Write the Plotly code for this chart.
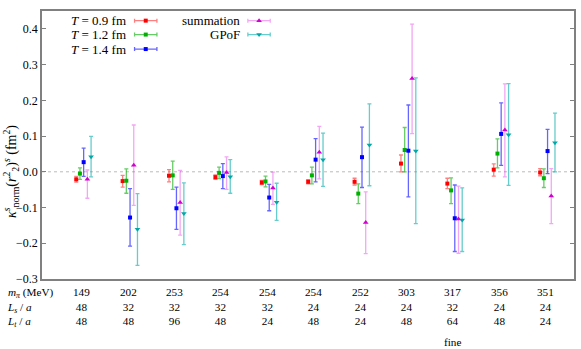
import plotly.graph_objects as go

# ensembles (x categories, table under the axis)
mpi = [149, 202, 253, 254, 254, 254, 252, 303, 317, 356, 351]
Ls = [48, 32, 32, 32, 32, 24, 24, 24, 32, 24, 24]
Lt = [48, 48, 96, 48, 24, 48, 24, 48, 64, 48, 24]
note = ["", "", "", "", "", "", "", "", "fine", "", ""]

# central values and upper / lower ends of error bars
t09_val = [-0.021, -0.026, -0.011, -0.015, -0.030, -0.028, -0.028, 0.023, -0.033, 0.006, -0.002]
t09_hi = [-0.013, -0.010, 0.006, -0.009, -0.024, -0.022, -0.018, 0.047, -0.018, 0.022, 0.009]
t09_lo = [-0.029, -0.043, -0.028, -0.021, -0.036, -0.034, -0.037, 0.000, -0.047, -0.012, -0.011]

t12_val = [-0.005, -0.025, -0.010, -0.003, -0.027, -0.010, -0.061, 0.061, -0.052, 0.051, -0.018]
t12_hi = [0.011, 0.008, 0.030, 0.013, -0.012, 0.013, -0.034, 0.124, -0.017, 0.092, 0.008]
t12_lo = [-0.021, -0.060, -0.049, -0.019, -0.042, -0.034, -0.089, 0.000, -0.089, 0.011, -0.044]

t14_val = [0.027, -0.128, -0.102, -0.012, -0.072, 0.034, 0.041, 0.059, -0.130, 0.106, 0.058]
t14_hi = [0.066, -0.047, -0.043, 0.023, -0.035, 0.093, 0.125, 0.187, -0.037, 0.193, 0.119]
t14_lo = [-0.013, -0.208, -0.161, -0.047, -0.109, -0.028, -0.044, -0.070, -0.223, 0.018, -0.005]

sum_val = [-0.021, 0.018, -0.086, -0.002, -0.045, 0.055, -0.142, 0.261, -0.132, 0.117, -0.068]
sum_hi = [0.005, 0.131, 0.004, 0.042, -0.001, 0.127, -0.056, 0.413, -0.040, 0.246, 0.009]
sum_lo = [-0.074, -0.094, -0.177, -0.049, -0.091, -0.020, -0.229, 0.107, -0.228, -0.014, -0.145]

gpof_val = [0.042, -0.161, -0.117, -0.014, -0.085, 0.034, 0.075, 0.058, -0.135, 0.104, 0.081]
gpof_hi = [0.099, -0.061, -0.031, 0.034, -0.032, 0.108, 0.190, 0.263, -0.045, 0.247, 0.164]
gpof_lo = [-0.014, -0.262, -0.204, -0.060, -0.136, -0.041, -0.039, -0.145, -0.223, -0.038, 0.000]

FONT = "Liberation Serif, Times New Roman, DejaVu Serif, serif"

series = [
    # name, val, hi, lo, marker colour, bar colour, symbol, size, legend col, legend row
    ("<i>T</i> = 0.9 fm", t09_val, t09_hi, t09_lo, "#ff0000", "rgba(255,0,0,0.5)", "square", 4, 0, 0),
    ("<i>T</i> = 1.2 fm", t12_val, t12_hi, t12_lo, "#00b000", "rgba(0,170,0,0.6)", "square", 4, 0, 1),
    ("<i>T</i> = 1.4 fm", t14_val, t14_hi, t14_lo, "#0000ff", "rgba(0,0,255,0.6)", "square", 4, 0, 2),
    ("summation", sum_val, sum_hi, sum_lo, "#d000d0", "rgba(220,0,220,0.35)", "triangle-up", 5, 1, 0),
    ("GPoF", gpof_val, gpof_hi, gpof_lo, "#00a8a8", "rgba(0,170,170,0.6)", "triangle-down", 5, 1, 1),
]

fig = go.Figure()

n = len(mpi)
for k, (name, val, hi, lo, mc, bc, sym, sz, lc, lr) in enumerate(series):
    off = (k - 1.5) * 0.08
    fig.add_trace(go.Scatter(
        x=[i + off for i in range(n)],
        y=val,
        mode="markers",
        marker=dict(color=mc, size=sz, symbol=sym),
        error_y=dict(type="data", symmetric=False,
                     array=[h - v for h, v in zip(hi, val)],
                     arrayminus=[v - l for v, l in zip(val, lo)],
                     color=bc, thickness=1.3, width=2),
        showlegend=False,
    ))

# gnuplot-style key drawn on an overlay axis (0..1 both ways)
key_x = [0.195, 0.408]
key_text_x = [0.161, 0.376]
key_y = [0.964, 0.912, 0.858]
for name, val, hi, lo, mc, bc, sym, sz, lc, lr in series:
    fig.add_trace(go.Scatter(
        x=[key_x[lc]], y=[key_y[lr]], xaxis="x2", yaxis="y2",
        mode="markers",
        marker=dict(color=mc, size=sz, symbol=sym),
        error_x=dict(type="data", array=[0.021], color=bc, thickness=1.3, width=2),
        showlegend=False, hoverinfo="skip",
    ))
    fig.add_annotation(x=key_text_x[lc], y=key_y[lr], xref="paper", yref="paper",
                       text=name, showarrow=False, xanchor="right", yanchor="middle",
                       font=dict(family=FONT, size=13, color="black"))

# table under the x axis: one multi-line text per column
TFONT = dict(family=FONT, size=11.2, color="black")
for i in range(n):
    fig.add_annotation(x=i, y=0, xref="x", yref="paper", yshift=-5,
                       text="%d<br>%d<br>%d" % (mpi[i], Ls[i], Lt[i]),
                       showarrow=False, xanchor="center", yanchor="top", align="center",
                       font=TFONT)
    if note[i]:
        fig.add_annotation(x=i, y=0, xref="x", yref="paper", yshift=-63,
                           text=note[i], showarrow=False, xanchor="center", yanchor="middle",
                           font=TFONT)
row_labels = ["<i>m</i><sub><i>π</i></sub> (MeV)", "<i>L</i><sub><i>s</i></sub> / <i>a</i>",
              "<i>L</i><sub><i>t</i></sub> / <i>a</i>"]
fig.add_annotation(x=-0.069, y=0, xref="paper", yref="paper", yshift=-5,
                   text="<br>".join(row_labels), showarrow=False,
                   xanchor="left", yanchor="top", align="left", font=TFONT)

# y axis title
fig.add_annotation(x=-0.058, y=0.40, xref="paper", yref="paper", textangle=-90,
                   text="<i>κ</i><sup><i>s</i></sup><sub>norm</sub>(<i>r</i><sup>2</sup><sub>2</sub>)<sup><i>s</i></sup> (fm<sup>2</sup>)",
                   showarrow=False, xanchor="center", yanchor="middle",
                   font=dict(family=FONT, size=14, color="black"))

# dotted zero line
fig.add_shape(type="line", xref="paper", yref="y", x0=0, x1=1, y0=0, y1=0,
              line=dict(color="#bbbbbb", width=1, dash="dot"), layer="below")

fig.update_layout(
    width=581, height=349,
    margin=dict(l=42, r=5, t=11, b=70),
    paper_bgcolor="white", plot_bgcolor="white",
    font=dict(family=FONT, size=13, color="black"),
    showlegend=False,
    xaxis=dict(range=[-0.858, 10.61], showticklabels=False, ticks="", showgrid=False,
               zeroline=False, showline=True, mirror=True, linecolor="#808080", linewidth=1.5),
    yaxis=dict(range=[-0.3, 0.45], tickvals=[-0.3, -0.2, -0.1, 0.0, 0.1, 0.2, 0.3, 0.4],
               tickformat=".1f", ticks="inside", ticklen=4, tickcolor="#808080",
               showgrid=False, zeroline=False, showline=True, mirror="ticks",
               linecolor="#808080", linewidth=1.5, tickfont=dict(family=FONT, size=12)),
    xaxis2=dict(overlaying="x", range=[0, 1], visible=False),
    yaxis2=dict(overlaying="y", range=[0, 1], visible=False),
)

fig.write_html("out.html", config={"displayModeBar": False},
               post_script="document.body.style.margin='0';")
